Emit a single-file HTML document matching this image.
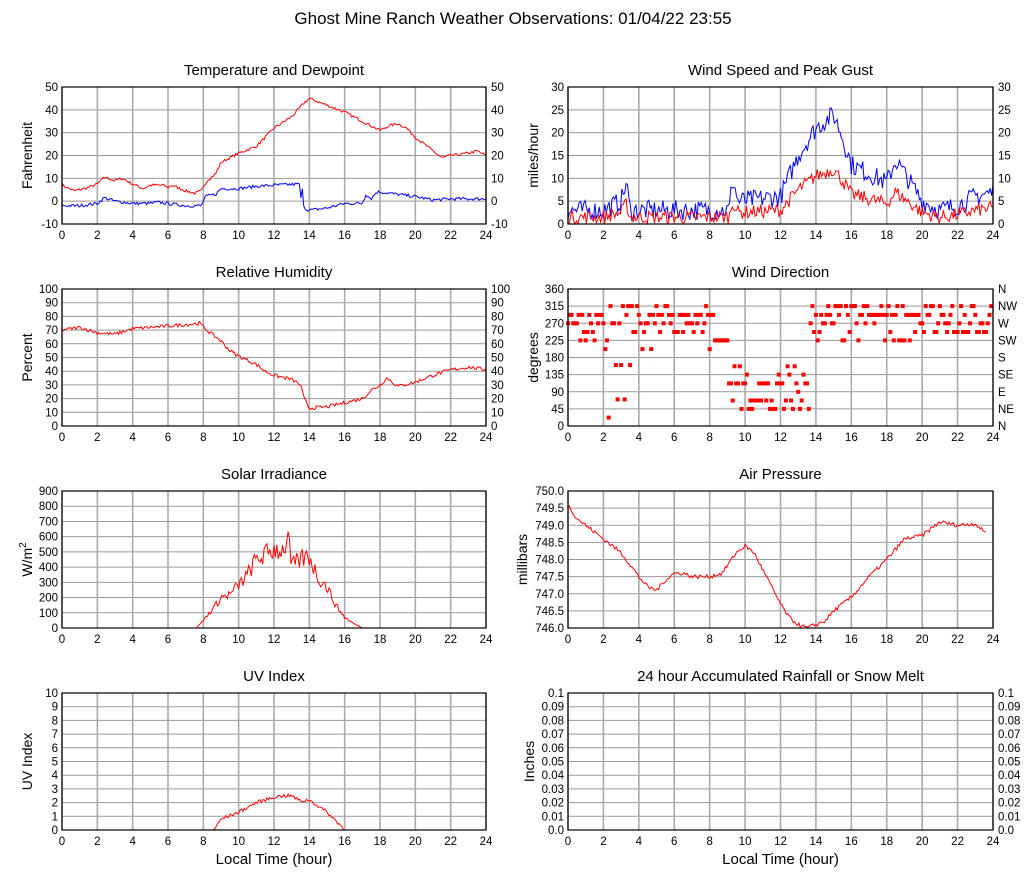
<!DOCTYPE html>
<html><head><meta charset="utf-8"><style>
body{margin:0;background:#fff}
svg{display:block;font-family:"Liberation Sans",sans-serif}
</style></head><body>
<svg id="s" width="1027" height="878" xmlns="http://www.w3.org/2000/svg">
<text x="513" y="24" font-size="17" text-anchor="middle">Ghost Mine Ranch Weather Observations: 01/04/22 23:55</text>
</svg>
<script>
var S=document.getElementById('s'),out='';
var seed=7;function rnd(){seed=(seed*16807)%2147483647;return seed/2147483647;}
function interp(k,t){for(var i=0;i<k.length-1;i++){if(t>=k[i][0]&&t<=k[i+1][0]){var a=k[i],b=k[i+1];var f=(b[0]==a[0])?0:(t-a[0])/(b[0]-a[0]);return a[1]+(b[1]-a[1])*f;}}return k[k.length-1][1];}
function series(k,noise,end,clampMin,step){var p=[];step=step||0.05;for(var t=0;t<=end+1e-9;t+=step){var v=interp(k,t)+(rnd()-0.5)*2*noise;if(clampMin!==undefined&&v<clampMin)v=clampMin;p.push([t,v]);}return p;}
function panel(o){
 var x0=o.x,y0=o.y,w=o.w,h=137,min=o.min,max=o.max;
 function X(t){return x0+t/24*w;} function Y(v){return y0+h-(v-min)/(max-min)*h;}
 out+='<text x="'+(x0+w/2)+'" y="'+(y0-12)+'" font-size="15" text-anchor="middle">'+o.title+'</text>';
 for(var i=0;i<o.ticks.length;i++){var v=o.ticks[i],y=Y(v);
  out+='<line x1="'+x0+'" x2="'+(x0+w)+'" y1="'+y+'" y2="'+y+'" stroke="#999" stroke-width="1"/>';
  out+='<text x="'+(x0-4)+'" y="'+(y+4)+'" font-size="11.5" text-anchor="end">'+(o.lab?o.lab[i]:v)+'</text>';
  if(o.rlab)out+='<text x="'+(x0+w+5)+'" y="'+(y+4)+'" font-size="11.5">'+o.rlab[i]+'</text>';}
 for(var t=0;t<=24;t+=2){var x=X(t);out+='<line x1="'+x+'" x2="'+x+'" y1="'+y0+'" y2="'+(y0+h)+'" stroke="#aaa" stroke-width="1.6"/>';
  out+='<text x="'+x+'" y="'+(y0+h+15)+'" font-size="11.5" text-anchor="middle">'+t+'</text>';}
 var cx=x0-(o.yoff||30),cy=y0+h/2;
 out+='<text transform="translate('+cx+','+cy+') rotate(-90)" font-size="14" text-anchor="middle">'+o.ylab+'</text>';
 (o.lines||[]).forEach(function(L){var d='';L.p.forEach(function(q,j){d+=(j?'L':'M')+X(q[0]).toFixed(1)+' '+Y(Math.max(min,Math.min(max,q[1]))).toFixed(1);});out+='<path d="'+d+'" fill="none" stroke="'+L.c+'" stroke-width="1"/>';});
 (o.dots||[]).forEach(function(q){out+='<rect x="'+(X(q[0])-2).toFixed(1)+'" y="'+(Y(q[1])-2).toFixed(1)+'" width="4" height="4" fill="red"/>';});
 out+='<rect x="'+x0+'" y="'+y0+'" width="'+w+'" height="'+h+'" fill="none" stroke="#000" stroke-width="1.2"/>';
 if(o.xlab)out+='<text x="'+(x0+w/2)+'" y="'+(y0+h+34)+'" font-size="15" text-anchor="middle">Local Time (hour)</text>';
}
function rng(a,b,s){var r=[];for(var v=a;v<=b+1e-9;v+=s)r.push(+v.toFixed(2));return r;}
var L=62,R=568,W1=424,W2=425;
var tk=[[0,7],[0.7,4.5],[1.5,6],[2,7.5],[2.4,10.5],[3,9],[3.4,10],[4,7.5],[4.6,5.5],[5,7],[5.7,7],[6,6],[6.2,7],[7,4.5],[7.5,3.5],[7.9,4.5],[8.2,9],[8.7,12],[9,17],[10,21],[11,24],[11.5,28],[12,32],[13,37],[13.7,43],[14,45],[15,42],[16,39],[17,35],[18,31],[18.5,33],[19,34],[19.5,32],[20,28],[21,22],[21.5,19],[22,20],[23,21],[23.5,22],[24,20]];
var dk=[[0,-2],[1,-2],[2,-1],[2.4,1.5],[3,0],[4,-1],[5,-1],[5.5,-0.5],[6,-1],[7,-2],[7.9,-2],[8.1,2],[8.7,3],[9,5.5],[10,5.5],[11,6.5],[12,7],[13.5,7.5],[13.52,1],[13.6,5],[13.7,-3],[14,-4],[15,-3],[16,-1],[17,-1],[17.2,3],[17.5,1],[17.8,4],[18,4],[19,3],[20,2],[21,0.5],[22,1],[23,1],[24,1]];
var T10=rng(-10,50,10);
panel({x:L,y:87,w:W1,min:-10,max:50,ticks:T10,rlab:T10,title:'Temperature and Dewpoint',ylab:'Fahrenheit',lines:[{c:'red',p:series(tk,0.6,24,undefined,0.08)},{c:'blue',p:series(dk,0.7,24,undefined,0.08)}]});
var gk=[[0,3],[2,3],[3,5],[3.3,9],[3.5,3],[8,3],[9.1,3],[9.3,10],[9.6,5],[12,6],[13,15],[14,21],[15,24],[15.5,19],[16,13],[17,11],[18,9],[18.5,14],[19,11],[20,5],[21,3],[22,4],[23,6],[24,7]];
var sk=gk.map(function(q){return [q[0],q[1]*0.5];});
var W30=rng(0,30,5);
panel({x:R,y:87,w:W2,min:0,max:30,ticks:W30,rlab:W30,title:'Wind Speed and Peak Gust',ylab:'miles/hour',lines:[{c:'blue',p:series(gk,2.2,24,0,0.08)},{c:'red',p:series(sk,1.5,24,0,0.08)}]});
var hk=[[0,70],[1,72],[2,68],[3,67],[4,71],[5,72],[6,73],[7,74],[7.8,75],[8.2,70],[9,62],[9.5,55],[10,51],[11,45],[11.5,40],[12,37],[13,34],[13.5,30],[13.7,20],[14,13],[15,14],[16,17],[17,20],[17.5,26],[18,30],[18.4,35],[19,29],[20,32],[21,37],[22,41],[23,43],[24,41]];
var H=rng(0,100,10);
panel({x:L,y:289,w:W1,min:0,max:100,ticks:H,rlab:H,title:'Relative Humidity',ylab:'Percent',lines:[{c:'red',p:series(hk,1.3,24,undefined,0.08)}]});
var dots=[];
function pick(a){return a[Math.floor(rnd()*a.length)];}
for(var t=0;t<=24;t+=0.1){var c;
 if(t<2.3)c=[247,270,270,292,292,225,202];
 else if(t<2.7)c=[45,22,270,315,247];
 else if(t<4)c=[270,292,247,135,160,70,315];
 else if(t<8.2)c=[270,292,292,315,270,247,202];
 else if(t<9)c=[225];
 else if(t<13.6)c=[90,112,112,135,67,45,157];
 else if(t<20)c=[225,247,270,292,292,270,315];
 else c=[270,292,292,315,247];
 dots.push([t,pick(c)]);}
panel({x:R,y:289,w:W2,min:0,max:360,ticks:rng(0,360,45),rlab:['N','NE','E','SE','S','SW','W','NW','N'],title:'Wind Direction',ylab:'degrees',dots:dots});
var rk=[[0,0],[7.6,0],[8,50],[8.7,150],[9,200],[9.5,220],[10,280],[10.5,350],[11,450],[11.5,480],[12,520],[12.5,510],[12.8,590],[13,400],[13.5,450],[14,470],[14.5,330],[15,270],[15.5,150],[16,70],[16.5,30],[17,0],[24,0]];
var sp=series(rk,0,24,undefined,0.08).map(function(q){return [q[0],q[1]>0?Math.max(0,q[1]+(rnd()-0.5)*q[1]*0.3):0];});
panel({x:L,y:491,w:W1,min:0,max:900,ticks:rng(0,900,100),title:'Solar Irradiance',ylab:'W/m<tspan dy="-6" font-size="10">2</tspan>',lines:[{c:'red',p:sp}]});
var pk=[[0,749.6],[0.5,749.2],[1,749],[2,748.6],[3,748.2],[4,747.5],[4.5,747.2],[5,747.1],[5.5,747.4],[6,747.6],[6.5,747.6],[7,747.5],[8,747.5],[8.7,747.6],[9.5,748.2],[10,748.4],[10.5,748.2],[11,747.7],[11.5,747.2],[12,746.7],[12.5,746.3],[13,746.1],[13.5,746],[14,746.1],[14.5,746.2],[15,746.5],[15.5,746.7],[16,746.9],[17,747.5],[18,748],[18.5,748.3],[19,748.6],[20,748.7],[20.5,748.9],[21,749.1],[22,749.0],[23,749.05],[23.5,748.8],[24,749]];
panel({x:R,y:491,w:W2,min:746,max:750,ticks:rng(746,750,0.5),lab:rng(746,750,0.5).map(function(v){return v.toFixed(1)}),title:'Air Pressure',ylab:'millibars',yoff:41,lines:[{c:'red',p:series(pk,0.06,23.6,undefined,0.08)}]});
var uk=[[0,0],[8.6,0],[8.7,0.2],[9,0.8],[10,1.3],[11,2],[12,2.4],[12.5,2.5],[13,2.5],[13.5,2.1],[14,2.2],[15,1.3],[15.8,0.3],[16,0],[24,0]];
var up=series(uk,0,24,undefined,0.08).map(function(q){return [q[0],q[1]>0?Math.max(0,q[1]+(rnd()-0.5)*0.25):0];});
panel({x:L,y:693,w:W1,min:0,max:10,ticks:rng(0,10,1),title:'UV Index',ylab:'UV Index',lines:[{c:'red',p:up}],xlab:1});
var rl=rng(0,0.1,0.01).map(function(v){return v==0?'0.0':String(+v.toFixed(2));});
panel({x:R,y:693,w:W2,min:0,max:0.1,ticks:rng(0,0.1,0.01),lab:rl,rlab:rl,title:'24 hour Accumulated Rainfall or Snow Melt',ylab:'Inches',yoff:34,lines:[{c:'red',p:[[0,0],[24,0]]}],xlab:1});
S.innerHTML+=out;
</script>
</body></html>
